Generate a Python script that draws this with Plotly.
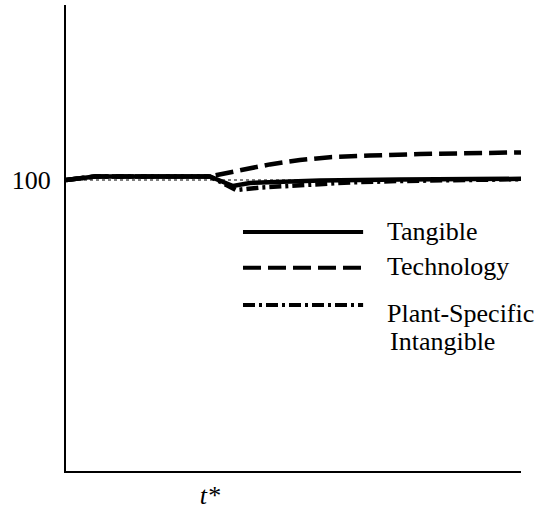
import plotly.graph_objects as go

# ---- data ----
t_star = 31.6
baseline = 100

tangible_t = [0, 6.4, 31.6, 36.7, 40.4, 47.0, 55.8, 73.4, 100]
tangible_v = [100, 100.9, 100.9, 98.5, 99.25, 99.6, 99.9, 100.1, 100.3]

technology_t = [0, 6.4, 31.6, 38.2, 44.8, 51.4, 58.0, 66.8, 77.8, 100]
technology_v = [100, 100.9, 100.9, 102.4, 103.9, 105, 105.7, 106.1, 106.5, 106.9]

plant_t = [0, 6.4, 31.6, 37.4, 42.6, 51.4, 62.4, 73.4, 86.6, 100]
plant_v = [100, 100.9, 100.9, 97.5, 98.1, 98.75, 99.4, 99.75, 100, 100.2]

y_ticks = [100]
y_ticklabels = ["100"]
x_ticklabels = ["<i>t*</i>"]

legend_labels = ["Tangible", "Technology", "Plant-Specific", "Intangible"]

FONT = "Liberation Serif, Times New Roman, serif"
TECH_DASH = "18px,7px"
PLANT_DASH = "12px,4px,3px,4px"

fig = go.Figure()

# dotted reference level
fig.add_trace(go.Scatter(x=[0, 100], y=[baseline, baseline], mode="lines",
                         line=dict(color="black", width=1, dash="dot"),
                         showlegend=False, hoverinfo="skip"))
fig.add_trace(go.Scatter(x=plant_t, y=plant_v, mode="lines", name="Plant-Specific Intangible",
                         line=dict(color="black", width=4.5, dash=PLANT_DASH), showlegend=False))
fig.add_trace(go.Scatter(x=technology_t, y=technology_v, mode="lines", name="Technology",
                         line=dict(color="black", width=4.5, dash=TECH_DASH), showlegend=False))
fig.add_trace(go.Scatter(x=tangible_t, y=tangible_v, mode="lines", name="Tangible",
                         line=dict(color="black", width=4.5), showlegend=False))

# hand-drawn style legend
leg_x0, leg_x1 = 0.389, 0.653
leg_y = [0.513, 0.436, 0.356]
dashes = ["solid", TECH_DASH, PLANT_DASH]
for yy, d in zip(leg_y, dashes):
    fig.add_shape(type="line", xref="paper", yref="paper", x0=leg_x0, x1=leg_x1, y0=yy, y1=yy,
                  line=dict(color="black", width=4, dash=d))

text_pos = [(0.701, 0.515), (0.701, 0.438), (0.701, 0.339), (0.708, 0.277)]
for (xx, yy), lab in zip(text_pos, legend_labels):
    fig.add_annotation(text=lab, xref="paper", yref="paper", x=xx, y=yy,
                       xanchor="left", yanchor="middle", showarrow=False,
                       font=dict(family=FONT, size=26, color="black"))

fig.update_xaxes(range=[0, 100], showline=True, linewidth=2, linecolor="black",
                 showgrid=False, zeroline=False, ticks="", automargin=False,
                 tickvals=[t_star], ticktext=x_ticklabels,
                 tickfont=dict(family=FONT, size=26, color="black"))
fig.update_yaxes(range=[27.25, 143.75], showline=True, linewidth=2, linecolor="black",
                 showgrid=False, zeroline=False, ticks="", automargin=False,
                 tickvals=y_ticks, ticktext=y_ticklabels,
                 tickfont=dict(family=FONT, size=26, color="black"),
                 ticklabelstandoff=8)

fig.update_layout(width=540, height=514, margin=dict(l=66, r=19, t=5, b=43),
                  plot_bgcolor="white", paper_bgcolor="white", showlegend=False)

fig.write_html("out.html", config={"displayModeBar": False},
               post_script="document.body.style.margin='0px';document.body.style.overflow='hidden';")
